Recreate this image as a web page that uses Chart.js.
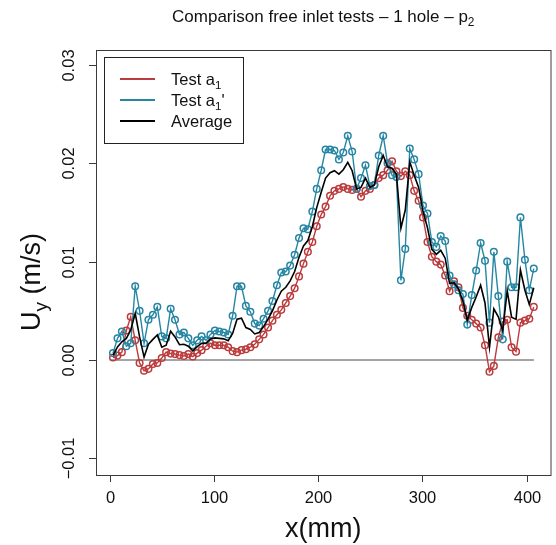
<!DOCTYPE html>
<html>
<head>
<meta charset="utf-8">
<script src="https://cdn.jsdelivr.net/npm/chart.js@4.4.1/dist/chart.umd.min.js"></script>
<style>
html, body { margin: 0; padding: 0; background: #fff; }
#wrap { width: 556px; height: 545px; }
</style>
</head>
<body>
<div id="wrap"><canvas id="chart" width="556" height="545"></canvas></div>
<script>
// x positions (mm) of the measuring points
const xPos = [
    3, 7.3, 11.5, 15.8, 20, 24.3, 28.5, 32.8, 37, 41.3,
    45.5, 49.8, 54, 58.3, 62.5, 66.8, 71, 75.3, 79.5, 83.8,
    88, 92.3, 96.5, 100.8, 105, 109.3, 113.5, 117.8, 122, 126.3,
    130.5, 134.8, 139, 143.3, 147.5, 151.8, 156, 160.3, 164.5, 168.8,
    173, 177.3, 181.5, 185.8, 190, 194.3, 198.5, 202.8, 207, 211.3,
    215.5, 219.8, 224, 228.3, 232.5, 236.8, 241, 245.3, 249.5, 253.8,
    258, 262.3, 266.5, 270.8, 275, 279.3, 283.5, 287.8, 292, 296.3,
    300.5, 304.8, 309, 313.3, 317.5, 321.8, 326, 330.3, 334.5, 338.8,
    343, 347.3, 351.5, 355.8, 360, 364.3, 368.5, 372.8, 377, 381.3,
    385.5, 389.8, 394, 398.3, 402.5, 406.8
];

// Uy values, in 1e-3 m/s
const testA1 = [
    0.25, 0.45, 0.8, 3.0, 4.4, 2.0, -0.3, -1.1, -0.9, -0.4,
    -0.3, 0.2, 0.8, 0.65, 0.6, 0.5, 0.4, 0.6, 0.35, 0.7,
    1.0, 1.4, 1.7, 1.5, 1.5, 1.5, 1.3, 0.9, 0.8, 1.0,
    1.1, 1.3, 1.6, 2.1, 2.6, 3.3, 4.0, 4.6, 5.1, 5.8,
    6.5, 7.3, 8.5, 9.8, 11.0, 12.0, 13.6, 14.8, 15.6, 16.7,
    17.2, 17.4, 17.6, 17.4, 17.3, 17.4, 16.6, 17.2, 17.4, 17.8,
    18.5, 18.8, 19.3, 20.2, 19.2, 18.7, 19.2, 18.8, 17.2, 16.2,
    14.5, 12.0, 10.5, 10.0, 9.7, 8.6, 7.0, 8.0, 7.4, 5.3,
    4.5, 4.1, 3.7, 3.3, 1.5, -1.2, -0.6, 2.3, 3.9, 4.1,
    1.3, 0.85, 3.8, 4.0, 4.2, 5.4
];
const testA1b = [
    0.7, 2.2, 2.9, 1.4, 1.7, 7.5, 5.0, 1.7, 4.1, 4.6,
    5.4, 2.4, 2.2, 5.2, 4.1, 2.6, 2.8, 2.2, 1.5, 2.0,
    2.4, 2.0, 2.6, 3.0, 2.9, 2.8, 2.6, 4.5, 7.5, 7.5,
    5.5, 4.9, 3.7, 3.5, 4.2, 5.0, 6.0, 7.6, 8.9, 9.0,
    9.6, 10.7, 12.4, 13.4, 13.3, 15.1, 17.4, 19.3, 21.4, 21.4,
    21.3, 20.4, 21.1, 22.8, 21.2, 17.4, 18.5, 19.8, 17.7, 17.8,
    20.8, 22.8, 20.0, 18.8, 18.6, 8.1, 11.3, 21.5, 20.4, 18.9,
    15.7, 14.9, 12.0, 11.5, 12.6, 12.1, 8.6, 7.7, 7.1, 6.7,
    3.6, 6.6, 9.1, 11.9, 10.1, 3.8, 11.0, 6.5, 2.1, 10.0,
    7.4, 7.4, 14.5, 10.2, 7.1, 9.3
];
const average = [
    0.48, 1.33, 1.85, 2.2, 3.05, 4.75, 2.35, 0.3, 1.6, 2.1,
    2.55, 1.3, 1.5, 2.93, 2.35, 1.55, 1.6, 1.4, 0.93, 1.35,
    1.7, 1.7, 2.15, 2.25, 2.2, 2.15, 1.95, 2.7, 4.15, 4.25,
    3.3, 3.1, 2.65, 2.8, 3.4, 4.15, 5.0, 6.1, 7.0, 7.4,
    8.05, 9.0, 10.45, 11.6, 12.15, 13.55, 15.5, 17.05, 18.5, 19.05,
    19.25, 18.9, 19.35, 20.1, 19.25, 17.4, 17.55, 18.5, 17.55, 17.8,
    19.65, 20.8, 19.65, 19.5, 18.9, 13.4, 15.25, 20.15, 18.8, 17.55,
    15.1, 13.45, 11.25, 10.75, 11.15, 10.35, 7.8, 7.85, 7.25, 6.0,
    4.05, 5.35, 6.4, 7.6, 5.8, 1.3, 5.2, 4.4, 3.0, 7.05,
    4.35, 4.13, 9.15, 7.1, 5.65, 7.35
];
const zeroLineX = [0, 407];

const xTicks = [0, 100, 200, 300, 400];
const yTicks = [-0.01, 0, 0.01, 0.02, 0.03];
const yTickLabels = ['\u22120.01', '0.00', '0.01', '0.02', '0.03'];

const RED = '#bb3b3d';
const BLUE = '#2686a3';
const FONT = '"Liberation Sans", Arial, Helvetica, sans-serif';

function toPoints(xs, ys) {
    return xs.map((x, i) => ({ x: x, y: ys[i] * 1e-3 }));
}

// text runs: [text, isSubscript]
function runsWidth(ctx, runs, size) {
    let w = 0;
    runs.forEach(([t, sub]) => {
        ctx.font = (sub ? size * 0.7 : size) + 'px ' + FONT;
        w += ctx.measureText(t).width;
    });
    return w;
}
function drawRuns(ctx, runs, x, y, size, align) {
    let cx = align === 'center' ? x - runsWidth(ctx, runs, size) / 2 : x;
    ctx.textAlign = 'left';
    ctx.textBaseline = 'alphabetic';
    runs.forEach(([t, sub]) => {
        ctx.font = (sub ? size * 0.7 : size) + 'px ' + FONT;
        ctx.fillText(t, cx, sub ? y + size * 0.25 : y);
        cx += ctx.measureText(t).width;
    });
}

// R style box, axes, titles and legend
const rDecor = {
    id: 'rDecor',
    afterDraw(chart) {
        const { ctx, chartArea: a, scales: { x, y } } = chart;
        ctx.save();
        ctx.strokeStyle = '#3a3a3a';
        ctx.fillStyle = '#111';
        ctx.lineWidth = 1;
        ctx.strokeRect(a.left + 0.5, a.top + 0.5, a.right - a.left, a.bottom - a.top);

        ctx.font = '16.5px ' + FONT;
        ctx.textAlign = 'center';
        ctx.textBaseline = 'alphabetic';
        xTicks.forEach((v) => {
            const px = Math.round(x.getPixelForValue(v)) + 0.5;
            ctx.beginPath();
            ctx.moveTo(px, a.bottom);
            ctx.lineTo(px, a.bottom + 7);
            ctx.stroke();
            ctx.fillText(String(v), px, a.bottom + 28);
        });
        yTicks.forEach((v, i) => {
            const py = Math.round(y.getPixelForValue(v)) + 0.5;
            ctx.beginPath();
            ctx.moveTo(a.left, py);
            ctx.lineTo(a.left - 7, py);
            ctx.stroke();
            ctx.save();
            ctx.translate(a.left - 22, py);
            ctx.rotate(-Math.PI / 2);
            ctx.fillText(yTickLabels[i], 0, 0);
            ctx.restore();
        });

        // titles
        const midX = (a.left + a.right) / 2;
        drawRuns(ctx, [['Comparison free inlet tests \u2013 1 hole \u2013 p', false], ['2', true]], midX, 22, 17, 'center');
        drawRuns(ctx, [['x(mm)', false]], midX, 537, 27, 'center');
        ctx.save();
        ctx.translate(40, 282);
        ctx.rotate(-Math.PI / 2);
        drawRuns(ctx, [['U', false], ['y', true], [' (m/s)', false]], 0, 0, 27, 'center');
        ctx.restore();

        // legend
        ctx.strokeStyle = '#222';
        ctx.strokeRect(104.5, 57.5, 139, 86);
        const entries = [
            { color: RED, runs: [['Test a', false], ['1', true]] },
            { color: BLUE, runs: [['Test a', false], ['1', true], ["'", false]] },
            { color: '#000', runs: [['Average', false]] },
        ];
        entries.forEach((e, i) => {
            const ly = 79 + i * 21;
            ctx.strokeStyle = e.color;
            ctx.lineWidth = 2.2;
            ctx.beginPath();
            ctx.moveTo(120, ly);
            ctx.lineTo(155, ly);
            ctx.stroke();
            ctx.fillStyle = '#111';
            drawRuns(ctx, e.runs, 171, ly + 6, 16.5, 'left');
        });
        ctx.restore();
    }
};

const seriesStyle = (color) => ({
    borderColor: color,
    borderWidth: 1.4,
    pointRadius: 3.3,
    pointStyle: 'circle',
    pointBorderColor: color,
    pointBackgroundColor: 'rgba(0,0,0,0)',
    pointBorderWidth: 1.5,
    tension: 0,
});

new Chart(document.getElementById('chart'), {
    type: 'line',
    data: {
        datasets: [
            {
                label: 'Average',
                data: toPoints(xPos, average),
                borderColor: '#000',
                borderWidth: 1.6,
                pointRadius: 0,
                tension: 0,
            },
            Object.assign({ label: "Test a1'", data: toPoints(xPos, testA1b) }, seriesStyle(BLUE)),
            Object.assign({ label: 'Test a1', data: toPoints(xPos, testA1) }, seriesStyle(RED)),
            {
                label: 'zero',
                data: zeroLineX.map((v) => ({ x: v, y: 0 })),
                borderColor: '#4a4a4a',
                borderWidth: 1,
                pointRadius: 0,
            },
        ]
    },
    options: {
        responsive: false,
        animation: false,
        devicePixelRatio: 1,
        events: [],
        layout: {
            padding: { left: 96, right: 2, top: 50, bottom: 70 },
        },
        plugins: {
            legend: { display: false },
            tooltip: { enabled: false },
        },
        scales: {
            x: { type: 'linear', min: -13.33, max: 422.86, display: false },
            y: { type: 'linear', min: -0.011695, max: 0.031526, display: false },
        },
    },
    plugins: [rDecor],
});
</script>
</body>
</html>
